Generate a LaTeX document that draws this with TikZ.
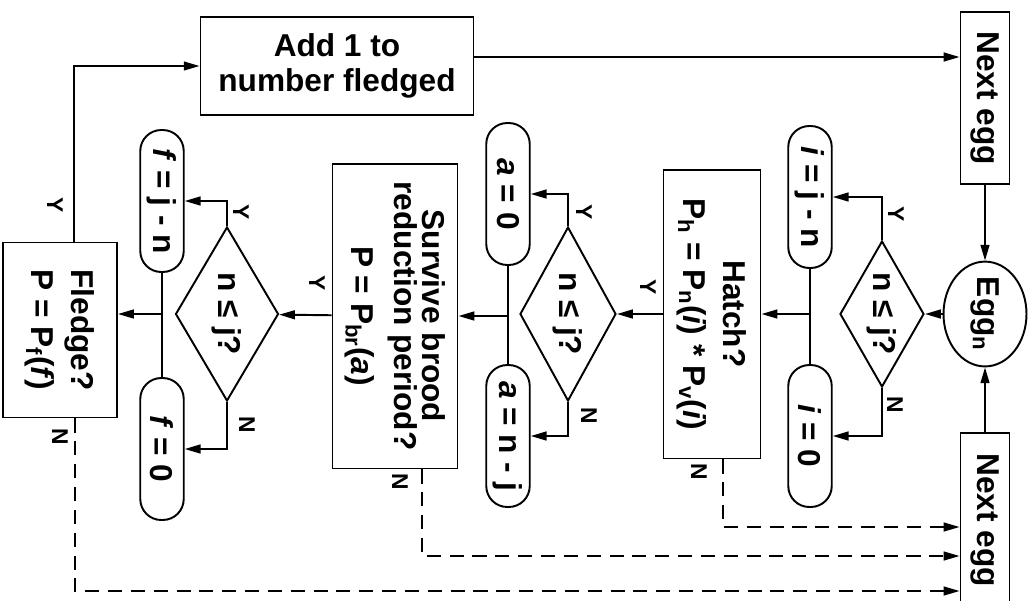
\documentclass[tikz,border=0pt]{standalone}
\usepackage{fontspec}
\setmainfont{Liberation Sans}
\usetikzlibrary{calc,arrows.meta,shapes.geometric}

\newcommand{\vr}[1]{\textbf{\textit{#1}}}

\begin{document}
\begin{tikzpicture}[x=0.02cm,y=-0.02cm,
  every node/.style={font=\fontsize{18}{20}\selectfont\bfseries},
  box/.style={draw,line width=1.1pt,rotate=-90,align=center,inner sep=0pt},
  pill/.style={draw,line width=1.1pt,rotate=-90,rounded corners=4.2mm,minimum width=2.84cm,minimum height=0.87cm,inner sep=0pt},
  cond/.style={draw,diamond,line width=1.1pt,rotate=-90,inner sep=0pt,shape aspect=1.7},
  lbl/.style={rotate=-90,inner sep=0pt,font=\fontsize{13}{15}\selectfont\bfseries},
  flow/.style={line width=1.1pt,-{Triangle[length=9pt,width=5pt]}},
  dsh/.style={line width=1pt,dash pattern=on 8pt off 5pt,-{Triangle[length=9pt,width=5pt]}}]
\useasboundingbox (0,0) rectangle (1031,600);

\node[draw,line width=1.1pt,align=center,minimum width=5.46cm,minimum height=1.96cm,inner sep=0pt] (add) at (337,66) {Add 1 to\\number fledged};
\node[box,minimum width=3.44cm,minimum height=0.98cm] (next1) at (985,98) {Next egg};
\node[draw,ellipse,line width=1.1pt,rotate=-90,minimum width=1.92cm,minimum height=1.66cm,inner sep=0pt] (egg) at (985,314) {Egg\textsubscript{n}};
\node[box,minimum width=3.48cm,minimum height=0.98cm] (next2) at (985,520) {Next egg};

\node[cond,minimum width=2.92cm,minimum height=1.68cm] (d1) at (882,314) {n ≤ j?};
\node[pill] (pij) at (810,197) {\vr{i} = j - n};
\node[pill] (pi0) at (810,436) {\vr{i} = 0};
\node[box,minimum width=5.78cm,minimum height=1.94cm] (hatch) at (712,314) {Hatch?\\[2.8pt]P\textsubscript{h} = P\textsubscript{n}(\vr{i}) * P\textsubscript{v}(\vr{i})};

\node[cond,minimum width=3.48cm,minimum height=1.92cm] (d2) at (568,314) {n ≤ j?};
\node[pill] (pa0) at (508,194) {\vr{a} = 0};
\node[pill] (panj) at (508,436) {\vr{a} = n - j};
\node[box,minimum width=6.1cm,minimum height=2.5cm] (surv) at (395,316) {Survive brood\\[-4pt]reduction period?\\[4.5pt]P = P\textsubscript{br}(\vr{a})};

\node[cond,minimum width=3.48cm,minimum height=2.06cm] (d3) at (227,314) {n ≤ j?};
\node[pill] (pfjn) at (162,201) {\vr{f} = j - n};
\node[pill] (pf0) at (162,449) {\vr{f} = 0};
\node[box,minimum width=3.5cm,minimum height=2.28cm] (fledge) at (60,330) {Fledge?\\[2.8pt]P = P\textsubscript{f}(\vr{f})};

\coordinate (hj) at (pij |- hatch);
\coordinate (aj) at (pa0 |- surv);
\coordinate (fj) at (pfjn |- d3);
\coordinate (fy) at ($(fledge.west)+(14,0)$);
\coordinate (ay) at ($(add.east)+(0,-9)$);
\coordinate (hn) at (723,527);
\coordinate (sn) at (422,556);
\coordinate (fn) at (75,591);

\draw[flow] (next1) -- (egg);
\draw[flow] (next2) -- (egg);
\draw[flow] (egg) -- (d1);
\draw[flow] (d1) |- (pij);
\draw[flow] (d1) |- (pi0);
\draw[line width=1.1pt] (pij) -- (pi0);
\draw[flow] (hj) -- (hatch);
\draw[flow] (hatch) -- (d2);
\draw[flow] (d2) |- (pa0);
\draw[flow] (d2) |- (panj);
\draw[line width=1.1pt] (pa0) -- (panj);
\draw[flow] (aj) -- (surv);
\draw[flow] (surv) -- (d3);
\draw[flow] (d3) |- (pfjn);
\draw[flow] (d3) |- (pf0);
\draw[line width=1.1pt] (pfjn) -- (pf0);
\draw[flow] (fj) -- (fj -| fledge.north);
\draw[flow] (fy) |- (add);
\draw[flow] (ay) -- (ay -| next1.south);

\draw[dsh] (hn |- hatch.east) -- (hn) -- (hn -| next2.south);
\draw[dsh] (sn |- surv.east) -- (sn) -- (sn -| next2.south);
\draw[dsh] (fn |- fledge.east) -- (fn) -- (fn -| next2.south);

\node[lbl] (y1) at (896,214) {Y};
\node[lbl] (y2) at (584,212) {Y};
\node[lbl] (y3) at (241,212) {Y};
\node[lbl] (yf) at (55,205) {Y};
\node[lbl] (yh) at (648,287) {Y};
\node[lbl] (ys) at (317,283) {Y};
\node[lbl] (n1) at (895,405) {N};
\node[lbl] (n2) at (589,416) {N};
\node[lbl] (n3) at (247,425) {N};
\node[lbl] (nh) at (699,472) {N};
\node[lbl] (ns) at (400,482) {N};
\node[lbl] (nf) at (60,437) {N};
\end{tikzpicture}
\end{document}
